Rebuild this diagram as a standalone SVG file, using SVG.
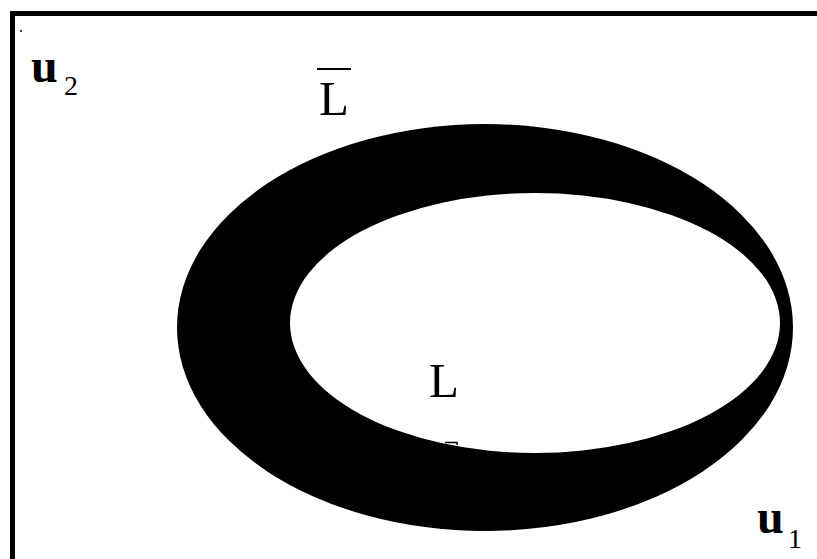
<svg xmlns="http://www.w3.org/2000/svg" width="817" height="559" viewBox="0 0 817 559">
  <style>
    .lbl { font-family: "Liberation Serif", "Times New Roman", serif; fill: #000; }
    .big { font-size: 49px; }
    .u { font-size: 48px; font-weight: bold; }
    .sub { font-size: 28px; }
    .frame { stroke: #000; stroke-width: 5; fill: none; }
  </style>
  <rect width="817" height="559" fill="#fff"/>
  <g id="frame">
    <path class="frame" d="M12.5 559 V13.5 H817"/>
    <circle cx="21" cy="31" r="1" fill="#000"/>
  </g>
  <g id="ring">
    <ellipse cx="485" cy="327.5" rx="308" ry="203.5" fill="#000"/>
    <ellipse cx="535" cy="323" rx="245" ry="130" fill="#fff"/>
    <path d="M445 442.5 H457 V445" stroke="#000" stroke-width="1.5" fill="none"/>
  </g>
  <g id="label-u2">
    <text class="lbl u" x="31" y="82">u</text>
    <text class="lbl sub" x="64" y="95">2</text>
  </g>
  <g id="label-Lbar">
    <line x1="317" y1="69" x2="351" y2="69" stroke="#000" stroke-width="2"/>
    <text class="lbl big" x="319" y="115">L</text>
  </g>
  <g id="label-L">
    <text class="lbl big" x="429" y="397">L</text>
  </g>
  <g id="label-u1">
    <text class="lbl u" x="757" y="533">u</text>
    <text class="lbl sub" x="788" y="548">1</text>
  </g>
</svg>
